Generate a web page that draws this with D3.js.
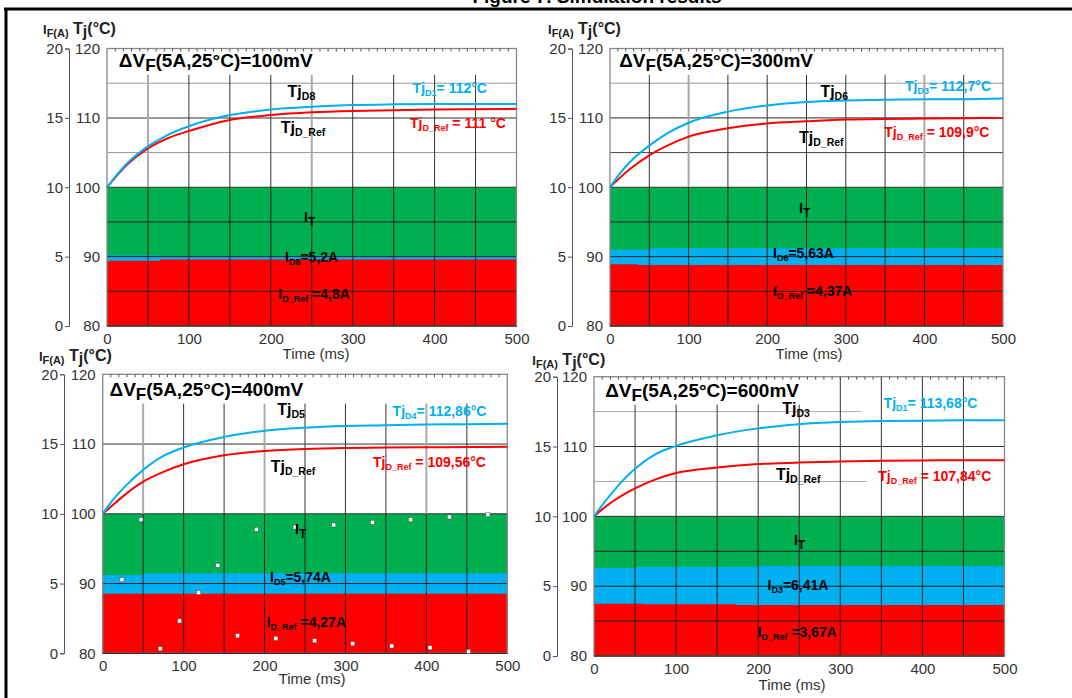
<!DOCTYPE html>
<html><head><meta charset="utf-8">
<script src="https://cdn.jsdelivr.net/npm/d3@7"></script>
<style>
html,body{margin:0;padding:0;background:#fff;}
svg{display:block;font-family:"Liberation Sans",Arial,sans-serif;}
text{white-space:pre;}
</style></head><body>
<svg id="c" width="1072" height="698"></svg>
<script>
// ---------------- data ----------------
const timeMs = [0,10,25,50,75,100,150,200,250,300,350,400,450,500];
const xTicks = [0,100,200,300,400,500];
const tjTicks = [80,90,100,110,120];
const ifTicks = [0,5,10,15,20];
const itTotal = 10;

const tjBlue100 = [100,101.5,103.5,105.9,107.6,108.8,110.4,111.2,111.6,111.85,111.95,112.0,112.0,112.0];
const tjRed100  = [100,101.4,103.3,105.6,107.1,108.1,109.7,110.4,110.8,111.0,111.1,111.2,111.25,111.3];
const tjBlue300 = [100,101.6,103.6,106.0,107.9,109.3,110.9,111.8,112.3,112.5,112.6,112.7,112.7,112.8];
const tjRed300  = [100,101.1,102.6,104.6,106.1,107.3,108.5,109.2,109.5,109.75,109.85,109.9,109.95,110.0];
const tjBlue400 = [100,101.6,103.6,106.3,108.3,109.5,111.0,111.9,112.35,112.6,112.7,112.8,112.85,112.9];
const tjRed400  = [100,101.0,102.5,104.6,106.0,107.1,108.4,109.0,109.3,109.45,109.5,109.55,109.56,109.6];
const tjBlue600 = [100,101.6,103.8,106.8,108.9,110.1,111.6,112.6,113.2,113.5,113.65,113.7,113.75,113.75];
const tjRed600  = [100,101.0,102.3,104.0,105.3,106.2,107.0,107.5,107.7,107.85,107.95,108.0,108.05,108.05];

const bandT100 = [0,65,500];          const bandRed100 = [4.7,4.8,4.8];   const bandBlue100 = [5.08,5.05,5.05];
const bandT300 = [0,35,50,500];       const bandRed300 = [4.45,4.4,4.4,4.4]; const bandBlue300 = [5.5,5.5,5.6,5.6];
const bandT400 = [0,50,500];          const bandRed400 = [4.27,4.27,4.27]; const bandBlue400 = [5.61,5.73,5.73];
const bandT600 = [0,52,60,173,200,500]; const bandRed600 = [3.74,3.74,3.70,3.65,3.65,3.65]; const bandBlue600 = [6.30,6.39,6.39,6.39,6.44,6.44];

const dotT400 = [47.3,23.8,71.1,95,118.5,142.3,166.6,190,214,237.8,262,285.6,309,333.3,357.2,380.6,404.5,428.4,452.2,476];
const dotI400 = [9.58,5.28,0.33,2.32,4.35,6.31,1.26,8.89,1.07,9.05,0.9,9.2,0.69,9.39,0.52,9.58,0.4,9.77,0.14,9.94];

const titles = ["100mV","300mV","400mV","600mV"];
const diodeMain = ["D8","D6","D5","D3"];
const diodeCyan = ["D1","D3","D4","D1"];
const cyanValues = ["112°C","112,7°C","112,86°C","113,68°C"];
const redValues = ["111 °C","109,9°C","109,56°C","107,84°C"];
const idValues = ["5,2A","5,63A","5,74A","6,41A"];
const idRefValues = ["4,8A","4,37A","4,27A","3,67A"];

// ---------------- layout ----------------
const panels = [
 {x0:107, x1:516.5, yTop:48.5, yBot:326, ifX:69, blue:tjBlue100, red:tjRed100, bT:bandT100, bR:bandRed100, bB:bandBlue100,
  vTop:116.2, vFull:[], vGray:[50,250], hGrid:[[115,"#999",1,500],[110,"#999",2,500],[105,"#999",1,500],[95,"#222",1,500],[90,"#222",1,500],[85,"#222",1,500]],
  L:{hdr:[43,34], title:[118.8,67], tjm:[287.6,97], cyan:[412.6,93], red:[410,128], tjr:[280.7,133], it:[304,221.7], id:[285,261.7], idr:[278.3,299], time:[316,359]}},
 {x0:610, x1:1003, yTop:48.5, yBot:326, ifX:572, blue:tjBlue300, red:tjRed300, bT:bandT300, bR:bandRed300, bB:bandBlue300,
  vTop:116.2, vFull:[], vGray:[100,400], hGrid:[[115,"#999",1,500],[110,"#555",1.2,500],[105,"#444",1,500],[95,"#222",1,500],[90,"#222",1,500],[85,"#222",1,500]],
  L:{hdr:[548,34], title:[619.2,67], tjm:[820.4,97], cyan:[905,91], red:[884.3,137.3], tjr:[799,142.7], it:[799,213], id:[773,258], idr:[773,296], time:[809,359]}},
 {x0:102.7, x1:507.3, yTop:374.3, yBot:653.3, ifX:64, blue:tjBlue400, red:tjRed400, bT:bandT400, bR:bandRed400, bB:bandBlue400, dots:true,
  vTop:115.8, vFull:[], vGray:[50,200,400], hGrid:[[110,"#333",1,500],[90,"#222",1,500]],
  L:{hdr:[38.9,360.7], title:[109.5,396], tjm:[277.2,415], cyan:[392.6,416], red:[373,466.5], tjr:[270.7,471.7], it:[295,534], id:[270,581.7], idr:[266.7,626.7], time:[312,684]}},
 {x0:594, x1:1004.5, yTop:376.7, yBot:656, ifX:557, blue:tjBlue600, red:tjRed600, bT:bandT600, bR:bandRed600, bB:bandBlue600,
  vTop:116, vFull:[300,350,400,450], vGray:[], hGrid:[[115,"#aaa",1,325],[110,"#333",1,500],[105,"#aaa",1,332],[95,"#222",1,500],[90,"#222",1,500],[85,"#222",1,500]],
  L:{hdr:[532.3,365], title:[605.2,396.7], tjm:[782.2,414], cyan:[883.6,408.3], red:[878.3,480.7], tjr:[775.9,480], it:[793.9,545], id:[767.5,590], idr:[757.6,636.7], time:[792,690]}}
];

const svg = d3.select("#c");
const C = {green:"#00b050", blue:"#00b0f0", red:"#ff0000"};

function rich(g, pos, parts, fill){
  const t = g.append("text").attr("x",pos[0]).attr("y",pos[1]).attr("fill",fill).attr("font-weight","bold");
  let cur = 0;
  parts.forEach(p=>{
    const off = p.sub||0;
    t.append("tspan").attr("font-size",p.s).attr("dy",off-cur).text(p.t);
    cur = off;
  });
  return t;
}

// frame + caption
svg.append("text").attr("x",597).attr("y",3).attr("text-anchor","middle").attr("font-weight","bold").attr("font-size",19).text("Figure 7. Simulation results");
svg.append("line").attr("x1",4).attr("x2",1072).attr("y1",9).attr("y2",9).attr("stroke","#000").attr("stroke-width",3);
svg.append("line").attr("x1",6).attr("x2",6).attr("y1",8).attr("y2",698).attr("stroke","#000").attr("stroke-width",3);

panels.forEach((P,i)=>{
  const g = svg.append("g");
  const x = d3.scaleLinear().domain([0,500]).range([P.x0,P.x1]);
  const yT = d3.scaleLinear().domain([80,120]).range([P.yBot,P.yTop]);
  const yI = d3.scaleLinear().domain([0,20]).range([P.yBot,P.yTop]);

  // bands
  const idx = d3.range(P.bT.length);
  const stepArea = (lo,hi)=>d3.area().curve(d3.curveStepAfter).x(k=>x(P.bT[k])).y0(k=>yI(lo(k))).y1(k=>yI(hi(k)));
  g.append("path").attr("fill",C.green).attr("d",stepArea(k=>0,k=>itTotal)(idx));
  g.append("path").attr("fill",C.blue).attr("d",stepArea(k=>0,k=>P.bB[k])(idx));
  g.append("path").attr("fill",C.red).attr("d",stepArea(k=>0,k=>P.bR[k])(idx));

  // horizontal grid
  P.hGrid.forEach(h=>{
    g.append("line").attr("x1",x(0)).attr("x2",x(h[3])).attr("y1",yT(h[0])).attr("y2",yT(h[0]))
      .attr("stroke",h[1]).attr("stroke-width",h[2]);
  });
  g.append("line").attr("x1",x(0)).attr("x2",x(500)).attr("y1",yT(100)).attr("y2",yT(100)).attr("stroke","#333").attr("stroke-width",1);
  // vertical grid
  d3.range(50,500,50).forEach(t=>{
    const gray = P.vGray.includes(t);
    const top = P.vFull.includes(t) ? 120 : P.vTop;
    g.append("line").attr("x1",x(t)).attr("x2",x(t)).attr("y1",yT(top)).attr("y2",yT(100))
      .attr("stroke",gray?"#aaa":"#333").attr("stroke-width",gray?2:1);
    g.append("line").attr("x1",x(t)).attr("x2",x(t)).attr("y1",yT(100)).attr("y2",yT(80))
      .attr("stroke","#222").attr("stroke-width",1);
  });
  // frame
  g.append("rect").attr("x",x(0)).attr("y",yT(120)).attr("width",x(500)-x(0)).attr("height",yT(80)-yT(120))
    .attr("fill","none").attr("stroke","#888").attr("stroke-width",1.3);
  g.append("line").attr("x1",x(0)).attr("x2",x(500)).attr("y1",yT(80)).attr("y2",yT(80)).attr("stroke","#333").attr("stroke-width",1.3);
  // minor ticks top
  d3.range(10,500,10).forEach(t=>{
    g.append("line").attr("x1",x(t)).attr("x2",x(t)).attr("y1",yT(120)).attr("y2",yT(120)+3).attr("stroke","#555").attr("stroke-width",1);
  });

  // curves
  const line = d3.line().curve(d3.curveMonotoneX).x((d,k)=>x(timeMs[k])).y(d=>yT(d));
  g.append("path").datum(P.red).attr("fill","none").attr("stroke",C.red).attr("stroke-width",2).attr("d",line);
  g.append("path").datum(P.blue).attr("fill","none").attr("stroke",C.blue).attr("stroke-width",2).attr("d",line);

  if(P.dots){
    g.selectAll("rect.dot").data(dotT400).join("rect").attr("class","dot")
      .attr("x",(d)=>x(d)-2).attr("y",(d,k)=>yI(dotI400[k])-2).attr("width",4).attr("height",4)
      .attr("fill","#fff").attr("stroke","#555").attr("stroke-width",0.5);
  }

  // axes
  const ax = g.append("g").attr("transform",`translate(0,${P.yBot})`)
    .call(d3.axisBottom(x).tickValues(xTicks).tickSize(0).tickPadding(7));
  ax.select(".domain").remove();
  ax.selectAll("text").attr("font-size",15).attr("fill","#333").attr("font-family","Liberation Sans, Arial, sans-serif");

  const at = g.append("g").attr("transform",`translate(${P.x0},0)`)
    .call(d3.axisLeft(yT).tickValues(tjTicks).tickSize(0).tickPadding(7));
  at.select(".domain").remove();
  at.selectAll("text").attr("font-size",15).attr("fill","#333").attr("font-family","Liberation Sans, Arial, sans-serif");

  const ai = g.append("g").attr("transform",`translate(${P.ifX},0)`)
    .call(d3.axisLeft(yI).tickValues(ifTicks).tickSize(4).tickSizeOuter(4).tickPadding(2));
  ai.select(".domain").attr("stroke","#555");
  ai.selectAll(".tick line").attr("stroke","#555");
  ai.selectAll("text").attr("font-size",15).attr("fill","#333").attr("font-family","Liberation Sans, Arial, sans-serif");

  const L = P.L;
  g.append("text").attr("x",L.time[0]).attr("y",L.time[1]).attr("text-anchor","middle").attr("font-size",15).attr("fill","#333").text("Time (ms)");

  rich(g, L.hdr, [{t:"I",s:13},{t:"F(A)",s:11,sub:3},{t:" T",s:16},{t:"j",s:16,sub:3},{t:"(°C)",s:16}], "#222");
  rich(g, L.title, [{t:"ΔV",s:19},{t:"F",s:17,sub:4},{t:"(5A,25°C)="+titles[i],s:19}], "#000");
  rich(g, L.tjm, [{t:"Tj",s:16},{t:diodeMain[i],s:10.5,sub:3}], "#000");
  rich(g, L.cyan, [{t:"Tj",s:14},{t:diodeCyan[i],s:9,sub:3},{t:"= "+cyanValues[i],s:14}], C.blue);
  rich(g, L.red, [{t:"Tj",s:14},{t:"D_Ref",s:9,sub:3},{t:" = "+redValues[i],s:14}], C.red);
  rich(g, L.tjr, [{t:"Tj",s:16},{t:"D_Ref",s:10.5,sub:3}], "#000");
  rich(g, L.it, [{t:"I",s:14},{t:"T",s:12,sub:4}], "#000");
  rich(g, L.id, [{t:"I",s:14},{t:diodeMain[i],s:9,sub:3},{t:"="+idValues[i],s:14}], "#000");
  rich(g, L.idr, [{t:"I",s:14},{t:"D_Ref",s:9,sub:3},{t:" ="+idRefValues[i],s:14}], "#000");
});
</script>
</body></html>
